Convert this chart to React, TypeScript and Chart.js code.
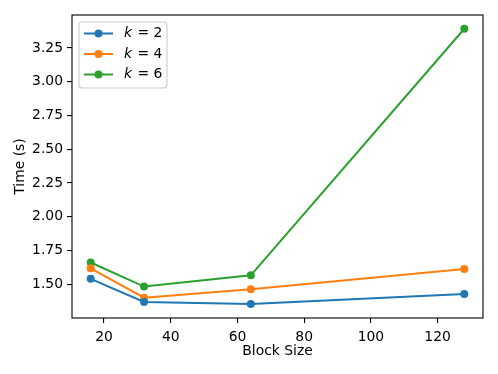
import React, { useEffect, useRef } from "react";
import { Chart, registerables } from "chart.js";

Chart.register(...registerables);

const blockSizes = [16, 32, 64, 128];
const k2Times = [1.54, 1.369, 1.354, 1.428];
const k4Times = [1.618, 1.40, 1.463, 1.613];
const k6Times = [1.661, 1.483, 1.566, 3.392];
const seriesLabels = ["2", "4", "6"];
const seriesColors = ["#1f77b4", "#ff7f0e", "#2ca02c"];
const xTicks = [20, 40, 60, 80, 100, 120];
const yTicks = [1.5, 1.75, 2.0, 2.25, 2.5, 2.75, 3.0, 3.25];

const FONT = "'DejaVu Sans', sans-serif";
const FS = 13.9;

const framePlugin = {
  id: "frame",
  afterDraw(chart: any) {
    const { ctx, chartArea } = chart;
    const { left, top, right, bottom } = chartArea;
    ctx.save();
    ctx.strokeStyle = "#000";
    ctx.lineWidth = 1.1;
    ctx.strokeRect(left, top, right - left, bottom - top);

    // legend
    const bx = left + 7, by = top + 7, bw = 88, bh = 66;
    ctx.beginPath();
    const r = 3;
    ctx.moveTo(bx + r, by);
    ctx.lineTo(bx + bw - r, by);
    ctx.quadraticCurveTo(bx + bw, by, bx + bw, by + r);
    ctx.lineTo(bx + bw, by + bh - r);
    ctx.quadraticCurveTo(bx + bw, by + bh, bx + bw - r, by + bh);
    ctx.lineTo(bx + r, by + bh);
    ctx.quadraticCurveTo(bx, by + bh, bx, by + bh - r);
    ctx.lineTo(bx, by + r);
    ctx.quadraticCurveTo(bx, by, bx + r, by);
    ctx.closePath();
    ctx.fillStyle = "rgba(255,255,255,0.8)";
    ctx.fill();
    ctx.strokeStyle = "#cccccc";
    ctx.lineWidth = 1.1;
    ctx.stroke();

    chart.data.datasets.forEach((ds: any, i: number) => {
      const y = by + 11.5 + i * 20.5;
      ctx.strokeStyle = ds.borderColor;
      ctx.lineWidth = 2;
      ctx.beginPath();
      ctx.moveTo(bx + 5, y);
      ctx.lineTo(bx + 34, y);
      ctx.stroke();
      ctx.fillStyle = ds.borderColor;
      ctx.beginPath();
      ctx.arc(bx + 19.5, y, 4, 0, Math.PI * 2);
      ctx.fill();
      ctx.fillStyle = "#000";
      ctx.textBaseline = "middle";
      ctx.textAlign = "left";
      ctx.font = `italic ${FS}px ${FONT}`;
      const tx = bx + 45;
      ctx.fillText("k", tx, y);
      const kw = ctx.measureText("k").width;
      ctx.font = `${FS}px ${FONT}`;
      ctx.fillText(" = " + seriesLabels[i], tx + kw + 1, y);
    });
    ctx.restore();
  },
};

export default function App() {
  const ref = useRef<HTMLCanvasElement>(null);
  useEffect(() => {
    document.body.style.margin = "0";
    const allData = [k2Times, k4Times, k6Times];
    const chart = new Chart(ref.current!, {
      type: "line",
      data: {
        datasets: allData.map((vals, i) => ({
          label: "k = " + seriesLabels[i],
          data: blockSizes.map((x, j) => ({ x, y: vals[j] })),
          borderColor: seriesColors[i],
          backgroundColor: seriesColors[i],
          borderWidth: 2,
          pointRadius: 4,
          pointHoverRadius: 4,
          pointBorderWidth: 0,
          tension: 0,
        })),
      },
      options: {
        animation: false,
        responsive: false,
        maintainAspectRatio: false,
        layout: { padding: { top: 15, right: 15, left: 0, bottom: 0 } },
        plugins: { legend: { display: false }, tooltip: { enabled: false } },
        scales: {
          x: {
            type: "linear",
            min: 10.4,
            max: 133.6,
            afterBuildTicks: (s: any) => {
              s.ticks = xTicks.map((v) => ({ value: v }));
            },
            afterFit: (s: any) => {
              s.height = 56;
            },
            grid: {
              display: true,
              drawOnChartArea: false,
              drawTicks: true,
              tickLength: 5,
              color: "#000",
              lineWidth: 1.1,
            },
            border: { display: false },
            ticks: {
              color: "#000",
              font: { family: FONT, size: FS },
              padding: 6.5,
              maxRotation: 0,
              callback: (v: any) => String(v),
            },
            title: {
              display: true,
              text: "Block Size",
              color: "#000",
              font: { family: FONT, size: FS },
              padding: { top: 0, bottom: 14 },
            },
          },
          y: {
            type: "linear",
            min: 1.25,
            max: 3.494,
            afterBuildTicks: (s: any) => {
              s.ticks = yTicks.map((v) => ({ value: v }));
            },
            afterFit: (s: any) => {
              s.width = 72;
            },
            grid: {
              display: true,
              drawOnChartArea: false,
              drawTicks: true,
              tickLength: 5,
              color: "#000",
              lineWidth: 1.1,
            },
            border: { display: false },
            ticks: {
              color: "#000",
              font: { family: FONT, size: FS },
              padding: 4,
              callback: (v: any) => Number(v).toFixed(2),
            },
            title: {
              display: true,
              text: "Time (s)",
              color: "#000",
              font: { family: FONT, size: FS },
              padding: { top: 12.4, bottom: 0 },
            },
          },
        },
      },
      plugins: [framePlugin],
    } as any);
    return () => chart.destroy();
  }, []);
  return (
    <div style={{ width: 498, height: 374 }}>
      <canvas ref={ref} width={498} height={374} style={{ display: "block" }} />
    </div>
  );
}
